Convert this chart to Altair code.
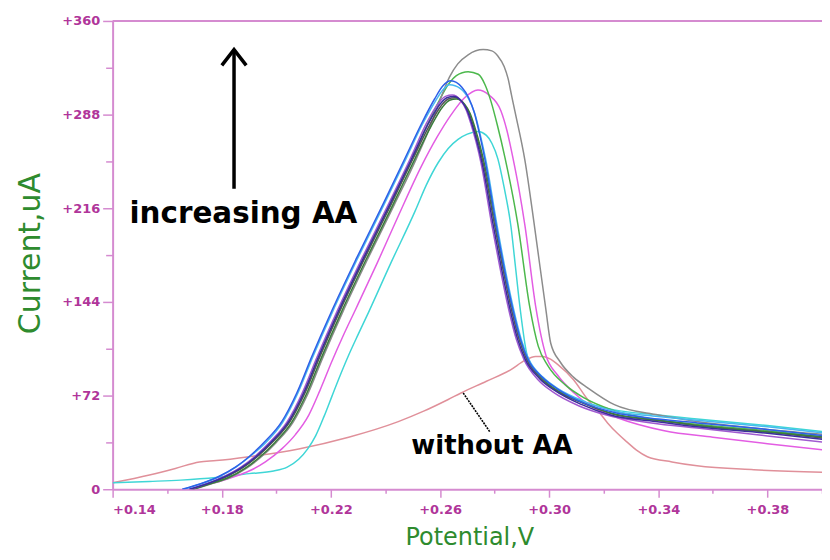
import altair as alt
import pandas as pd

# ---- data (Potential in V, Current in uA) ----
without_x = [0.14, 0.1535, 0.1630, 0.1718, 0.178, 0.190, 0.2082, 0.2265, 0.2447, 0.2540, 0.2630, 0.2677, 0.2770, 0.2860, 0.2911, 0.2950, 0.2977, 0.3005, 0.3031, 0.3090, 0.3141, 0.3180, 0.3214, 0.3250, 0.3287, 0.3320, 0.3360, 0.3450, 0.3542, 0.3750, 0.4017]
without_y = [5, 11, 16, 21, 22, 25, 31, 40, 52, 60, 69, 74, 83, 92, 99, 102, 102, 100, 96, 84, 69, 60, 51, 43, 36, 30, 25, 21, 18, 15, 13]

cyan_x = [0.14, 0.1535, 0.1650, 0.178, 0.190, 0.199, 0.2040, 0.2082, 0.2115, 0.2144, 0.2175, 0.2203, 0.2235, 0.2265, 0.2300, 0.2338, 0.2420, 0.2509, 0.2550, 0.2593, 0.2630, 0.2666, 0.2700, 0.2739, 0.2770, 0.2790, 0.2812, 0.2835, 0.2860, 0.2876, 0.2893, 0.2922, 0.2975, 0.3031, 0.3130, 0.3239, 0.3400, 0.3542, 0.3800, 0.4017]
cyan_y = [5, 6, 7, 9, 12, 14, 17, 23, 31, 41, 56, 71, 88, 103, 119, 136, 174, 214, 234, 251, 262, 269, 273, 275, 272, 266, 254, 232, 202, 172, 140, 101, 86, 77, 67, 61, 57, 54, 49, 44]

magenta_x = [0.1681, 0.1735, 0.1791, 0.1850, 0.1900, 0.1960, 0.2020, 0.2070, 0.2119, 0.2160, 0.2203, 0.2245, 0.2290, 0.2370, 0.2447, 0.2531, 0.2590, 0.2641, 0.2690, 0.2739, 0.2780, 0.2823, 0.2845, 0.2867, 0.2890, 0.2911, 0.2951, 0.2988, 0.3030, 0.3086, 0.3160, 0.3250, 0.3422, 0.3600, 0.3800, 0.4017]
magenta_y = [0, 3, 6, 10, 14, 21, 31, 42, 57, 76, 98, 118, 138, 174, 210, 248, 271, 288, 301, 307, 303, 291, 276, 255, 230, 203, 140, 103, 88, 75, 63, 55, 45, 40, 35, 30]

green_x = [0.1688, 0.1750, 0.1818, 0.1878, 0.1928, 0.1988, 0.2048, 0.2103, 0.2158, 0.2231, 0.2323, 0.2421, 0.2501, 0.2560, 0.2600, 0.2630, 0.2660, 0.2703, 0.2740, 0.2765, 0.2787, 0.2810, 0.2838, 0.2885, 0.2929, 0.2960, 0.2995, 0.3060, 0.3130, 0.3230, 0.3323, 0.3542, 0.3800, 0.4017]
green_y = [0, 4, 10, 17, 25, 37, 52, 74, 102, 137, 178, 220, 255, 283, 300, 311, 318, 321, 319, 311, 298, 280, 255, 204, 140, 110, 95, 80, 70, 61, 56, 50, 45, 40]

grey_x = [0.1696, 0.1760, 0.1830, 0.1890, 0.1940, 0.2000, 0.2060, 0.2115, 0.2170, 0.2243, 0.2335, 0.2433, 0.2513, 0.2570, 0.2605, 0.2635, 0.2665, 0.2703, 0.2758, 0.2790, 0.2812, 0.2835, 0.2849, 0.2862, 0.2874, 0.2911, 0.2947, 0.2988, 0.3006, 0.3040, 0.3090, 0.3141, 0.3239, 0.3400, 0.3542, 0.3800, 0.4017]
grey_y = [0, 4, 9, 16, 24, 36, 51, 73, 101, 136, 177, 219, 254, 282, 302, 317, 327, 334, 338, 337, 333, 325, 316, 303, 291, 253, 201, 138, 112, 98, 86, 78, 65, 57, 52, 46, 42]

darkgrey_x = [0.1690, 0.1750, 0.1820, 0.1880, 0.1930, 0.1990, 0.2050, 0.2105, 0.2160, 0.2233, 0.2325, 0.2423, 0.2503, 0.2562, 0.2605, 0.2630, 0.2655, 0.2685, 0.2705, 0.2723, 0.2742, 0.2760, 0.2800, 0.2830, 0.2862, 0.2890, 0.2917, 0.2970, 0.3025, 0.3125, 0.3230, 0.3395, 0.3542, 0.3800, 0.4017]
darkgrey_y = [0, 4, 10, 17, 25, 37, 52, 74, 102, 137, 178, 220, 255, 280, 295, 300, 301, 297, 290, 279, 265, 249, 203, 170, 138, 115, 100, 85, 76, 66, 58, 53, 49, 44, 39]

darkgreen_x = [0.1695, 0.1755, 0.1825, 0.1885, 0.1935, 0.1995, 0.2055, 0.2110, 0.2165, 0.2238, 0.2330, 0.2428, 0.2508, 0.2567, 0.2610, 0.2635, 0.2660, 0.2690, 0.2710, 0.2728, 0.2747, 0.2765, 0.2805, 0.2835, 0.2867, 0.2895, 0.2922, 0.2975, 0.3030, 0.3130, 0.3235, 0.3400, 0.3542, 0.3800, 0.4017]
darkgreen_y = [0, 4, 9, 16, 24, 36, 51, 73, 101, 136, 177, 219, 254, 279, 294, 299, 300, 296, 289, 278, 264, 248, 202, 169, 138, 115, 100, 85, 76, 66, 58, 53, 49, 44, 40]

violet_x = [0.1685, 0.1740, 0.1810, 0.1870, 0.1920, 0.1980, 0.2040, 0.2095, 0.2150, 0.2223, 0.2315, 0.2413, 0.2493, 0.2552, 0.2595, 0.2620, 0.2645, 0.2675, 0.2695, 0.2713, 0.2732, 0.2750, 0.2790, 0.2820, 0.2852, 0.2880, 0.2907, 0.2960, 0.3012, 0.3110, 0.3210, 0.3375, 0.3542, 0.3800, 0.4017]
violet_y = [0, 4, 10, 17, 25, 37, 52, 74, 102, 137, 178, 220, 255, 282, 297, 302, 303, 299, 292, 281, 267, 251, 203, 170, 138, 115, 100, 84, 75, 64, 57, 51, 47, 41, 36]

lightblue_x = [0.1660, 0.1722, 0.1793, 0.1852, 0.1902, 0.1962, 0.2022, 0.2077, 0.2132, 0.2205, 0.2297, 0.2395, 0.2475, 0.2534, 0.2582, 0.2610, 0.2635, 0.2675, 0.2705, 0.2727, 0.2748, 0.2768, 0.2808, 0.2838, 0.2870, 0.2898, 0.2925, 0.2978, 0.3035, 0.3135, 0.3240, 0.3400, 0.3542, 0.3800, 0.4017]
lightblue_y = [0, 4, 10, 17, 25, 36, 51, 73, 101, 136, 177, 219, 254, 280, 298, 307, 311, 308, 300, 289, 272, 253, 204, 170, 138, 115, 100, 86, 77, 67, 60, 56, 53, 48, 43]

navy_x = [0.1681, 0.1745, 0.1815, 0.1875, 0.1925, 0.1985, 0.2045, 0.2100, 0.2155, 0.2228, 0.2320, 0.2418, 0.2498, 0.2557, 0.2600, 0.2625, 0.2650, 0.2680, 0.2700, 0.2718, 0.2737, 0.2755, 0.2795, 0.2825, 0.2857, 0.2885, 0.2912, 0.2965, 0.3020, 0.3120, 0.3225, 0.3390, 0.3542, 0.3800, 0.4017]
navy_y = [0, 4, 10, 17, 25, 37, 52, 74, 102, 137, 178, 220, 255, 281, 296, 301, 302, 298, 291, 280, 266, 250, 203, 170, 138, 115, 100, 85, 76, 65, 57, 52, 48, 43, 38]

blue_x = [0.1655, 0.1720, 0.1791, 0.1850, 0.1900, 0.1960, 0.2020, 0.2075, 0.2130, 0.2203, 0.2295, 0.2393, 0.2473, 0.2532, 0.2580, 0.2610, 0.2640, 0.2680, 0.2705, 0.2725, 0.2745, 0.2765, 0.2805, 0.2835, 0.2867, 0.2895, 0.2922, 0.2975, 0.3031, 0.3130, 0.3239, 0.3400, 0.3542, 0.3800, 0.4017]
blue_y = [0, 4, 10, 17, 25, 37, 52, 74, 102, 137, 178, 220, 255, 281, 300, 310, 314, 309, 301, 290, 273, 253, 204, 170, 138, 115, 100, 86, 77, 66, 59, 54, 51, 46, 41]

series_names = ["without AA", "cyan", "magenta", "green", "grey", "darkgrey", "darkgreen", "violet", "lightblue", "navy", "blue"]
series_colors = ["#e0909a", "#3fd6d6", "#e35de3", "#4cb84c", "#8c8c8c", "#555555", "#3a7d3a", "#a05ad0", "#47b8f0", "#3b2d9e", "#2f5fe8"]
series_widths = [1.5, 1.5, 1.5, 1.6, 2.0, 1.5, 1.5, 1.5, 1.6, 2.0, 2.2]
series_data = [(without_x, without_y), (cyan_x, cyan_y), (magenta_x, magenta_y), (green_x, green_y),
               (grey_x, grey_y), (darkgrey_x, darkgrey_y), (darkgreen_x, darkgreen_y), (violet_x, violet_y),
               (lightblue_x, lightblue_y), (navy_x, navy_y), (blue_x, blue_y)]

x_ticks = [0.14, 0.16, 0.18, 0.20, 0.22, 0.24, 0.26, 0.28, 0.30, 0.32, 0.34, 0.36, 0.38, 0.40]
y_ticks = [0, 36, 72, 108, 144, 180, 216, 252, 288, 324, 360]

rows = []
for order, (name, (xs, ys)) in enumerate(zip(series_names, series_data)):
    for i, (xv, yv) in enumerate(zip(xs, ys)):
        rows.append({"series": name, "Potential": xv, "Current": yv, "k": order * 100 + i})
df = pd.DataFrame(rows)

W, H = 712, 470
AX = "#d58bd0"
LAB = "#b0359a"
GREEN = "#2e8b2e"

xscale = alt.Scale(domain=[0.14, 0.40], nice=False, zero=False)
yscale = alt.Scale(domain=[0, 360], nice=False)

x_axis = alt.Axis(
    values=x_ticks,
    labelExpr="round(datum.value*100) % 4 == 2 ? '+' + format(datum.value, '.2f') : ''",
    tickSize={"condition": {"test": "round(datum.value*100) % 4 == 2", "value": 8}, "value": 4},
    tickColor=AX, domainColor=AX, domainWidth=2, tickWidth=1.5,
    labelColor=LAB, labelFont="DejaVu Sans", labelFontSize=13, labelFontWeight="bold",
    labelPadding=6, grid=False,
    title="Potential,V", titleColor=GREEN, titleFont="DejaVu Sans", titleFontSize=24,
    titleFontWeight="normal", titleX=358, titleY=55, titleBaseline="alphabetic", titleAnchor="middle",
)
y_axis = alt.Axis(
    values=y_ticks,
    labelExpr="datum.value == 0 ? '0' : (datum.value % 72 == 0 ? '+' + datum.value : '')",
    tickSize={"condition": {"test": "datum.value % 72 == 0", "value": 10}, "value": 7},
    tickColor=AX, domainColor=AX, domainWidth=2, tickWidth=1.5,
    labelColor=LAB, labelFont="DejaVu Sans", labelFontSize=13, labelFontWeight="bold",
    labelPadding=3, grid=False,
    title="Current,uA", titleColor=GREEN, titleFont="DejaVu Sans", titleFontSize=30,
    titleFontWeight="normal", titleX=-73, titleY=233, titleAngle=-90, titleBaseline="alphabetic",
    titleAlign="center",
)

lines = alt.Chart(df).mark_line(interpolate="monotone", clip=True).encode(
    x=alt.X("Potential:Q", scale=xscale, axis=x_axis),
    y=alt.Y("Current:Q", scale=yscale, axis=y_axis),
    color=alt.Color("series:N", scale=alt.Scale(domain=series_names, range=series_colors), legend=None),
    strokeWidth=alt.StrokeWidth("series:N", scale=alt.Scale(domain=series_names, range=series_widths), legend=None),
    detail="series:N",
    order="k:Q",
)

top_frame = alt.Chart(pd.DataFrame({"a": [0]})).mark_rule(color=AX, strokeWidth=2).encode(
    x=alt.value(0), x2=alt.value(W), y=alt.value(0)
)

# annotations
ann_text = pd.DataFrame({
    "Potential": [0.1462, 0.2495],
    "Current": [205, 27],
    "label": ["increasing AA", "without AA"],
    "size": [29.5, 26],
})
texts = alt.Chart(ann_text).mark_text(
    align="left", baseline="alphabetic", font="DejaVu Sans", fontWeight="bold", color="black"
).encode(
    x=alt.X("Potential:Q", scale=xscale),
    y=alt.Y("Current:Q", scale=yscale),
    text="label:N",
    size=alt.Size("size:Q", scale=None, legend=None),
)

arrow_df = pd.DataFrame({"x": [0.1845], "y": [231], "y2": [338]})
arrow_line = alt.Chart(arrow_df).mark_rule(color="black", strokeWidth=3.5).encode(
    x=alt.X("x:Q", scale=xscale), y=alt.Y("y:Q", scale=yscale), y2="y2:Q"
)
arrow_head = alt.Chart(arrow_df).mark_point(
    shape="M-1,1.3L0,0L1,1.3", filled=False, color="black", strokeWidth=3.5, size=600, opacity=1
).encode(
    x=alt.X("x:Q", scale=xscale), y=alt.Y("y2:Q", scale=yscale)
)

leader_df = pd.DataFrame({"x": [0.2685], "y": [74], "x2": [0.2783], "y2": [44]})
leader = alt.Chart(leader_df).mark_rule(color="black", strokeWidth=1.6, strokeDash=[2, 1]).encode(
    x=alt.X("x:Q", scale=xscale), y=alt.Y("y:Q", scale=yscale), x2="x2:Q", y2="y2:Q"
)

chart = alt.layer(lines, top_frame, leader, arrow_line, arrow_head, texts).properties(
    width=W, height=H,
    autosize=alt.AutoSizeParams(type="none"),
    padding={"left": 105, "top": 12, "right": 0, "bottom": 62},
    background="white",
).configure_view(stroke=None)

chart.save("out.html", embed_options={"renderer": "svg", "actions": False})
